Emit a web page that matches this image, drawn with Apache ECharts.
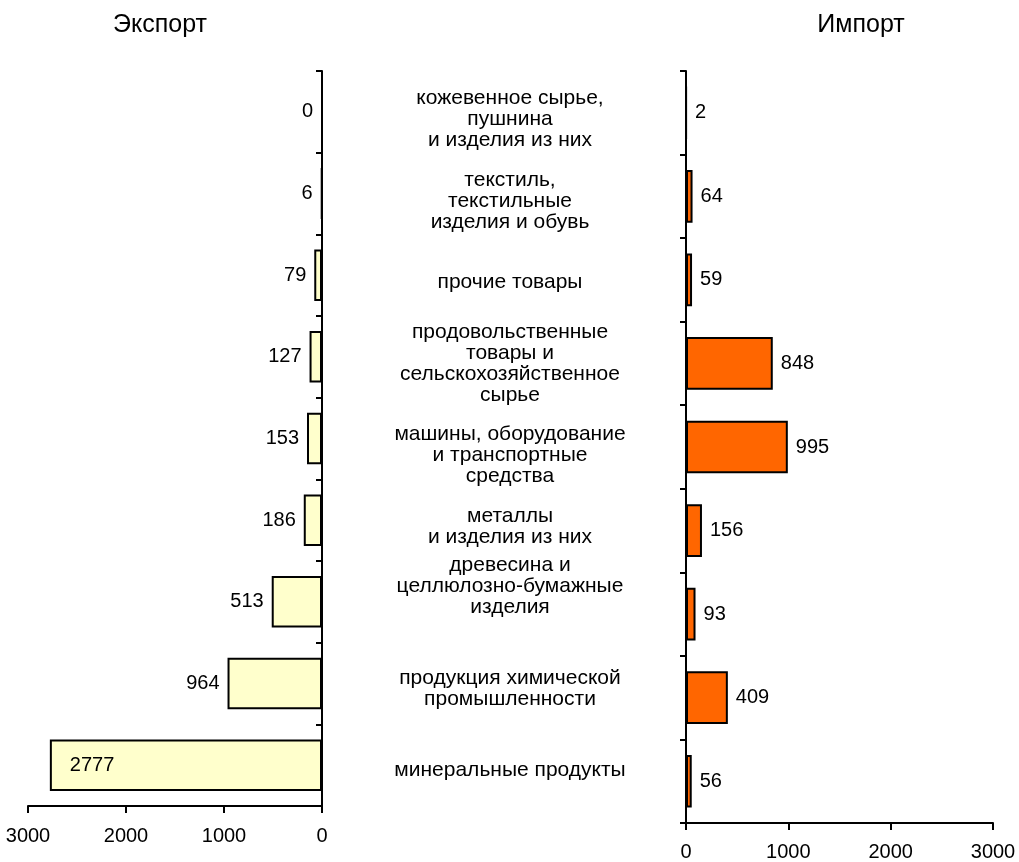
<!DOCTYPE html>
<html>
<head>
<meta charset="utf-8">
<script src="https://cdn.jsdelivr.net/npm/echarts@6/dist/echarts.min.js"></script>
<style>
  html, body { margin: 0; padding: 0; background: #fff; }
  #chart { width: 1019px; height: 862px; }
</style>
</head>
<body>
<div id="chart"></div>
<script>
// категории сверху вниз
const categories = [
  "кожевенное сырье,\nпушнина\nи изделия из них",
  "текстиль,\nтекстильные\nизделия и обувь",
  "прочие товары",
  "продовольственные\nтовары и\nсельскохозяйственное\nсырье",
  "машины, оборудование\nи транспортные\nсредства",
  "металлы\nи изделия из них",
  "древесина и\nцеллюлозно-бумажные\nизделия",
  "продукция химической\nпромышленности",
  "минеральные продукты"
];
const exportValues = [0, 6, 79, 127, 153, 186, 513, 964, 2777];
const importValues = [2, 64, 59, 848, 995, 156, 93, 409, 56];
const axisTicks = [0, 1000, 2000, 3000];

const font = "Arial, 'Liberation Sans', sans-serif";
const black = "#000";

const chart = echarts.init(document.getElementById("chart"));

const exportData = exportValues.map((v) => {
  if (v > 2000) {
    return { value: v, label: { position: "insideLeft", distance: 20 } };
  }
  return v;
});

// подписи в середине стоят не совсем ровно - чуть двигаем пустыми строками
function middleLabel(value, idx) {
  if (idx === 4) return "\n" + value;
  if (idx === 6) return value + "\n\n";
  return value;
}

function valueAxis(gridIndex, inverse, margin) {
  return {
    gridIndex: gridIndex,
    type: "value",
    inverse: inverse,
    min: axisTicks[0],
    max: axisTicks[axisTicks.length - 1],
    interval: 1000,
    splitLine: { show: false },
    axisLine: { show: true, lineStyle: { color: black, width: 2 } },
    axisTick: { show: true, length: 7, lineStyle: { color: black, width: 2 } },
    axisLabel: { color: black, fontSize: 20, margin: margin, formatter: (v) => String(v) }
  };
}

const option = {
  animation: false,
  backgroundColor: "#fff",
  textStyle: { fontFamily: font },
  graphic: [
    {
      type: "text",
      x: 160,
      y: 25,
      style: { text: "Экспорт", fontSize: 25, fontFamily: font, fill: black, align: "center", verticalAlign: "middle" }
    },
    {
      type: "text",
      x: 861,
      y: 25,
      style: { text: "Импорт", fontSize: 25, fontFamily: font, fill: black, align: "center", verticalAlign: "middle" }
    }
  ],
  grid: [
    { left: 28, right: 697, top: 71, height: 735 },
    { left: 686, right: 26, top: 71, height: 752 },
    { left: 510, width: 2, top: 79, height: 732 }
  ],
  xAxis: [
    valueAxis(0, true, 20),
    valueAxis(1, false, 19),
    { gridIndex: 2, type: "value", show: false }
  ],
  yAxis: [
    {
      gridIndex: 0,
      type: "category",
      position: "right",
      inverse: true,
      data: categories,
      axisLine: { show: true, lineStyle: { color: black, width: 2 } },
      axisTick: { show: true, inside: true, length: 6, lineStyle: { color: black, width: 2 } },
      axisLabel: { show: false }
    },
    {
      gridIndex: 1,
      type: "category",
      position: "left",
      inverse: true,
      data: categories,
      axisLine: { show: true, lineStyle: { color: black, width: 2 } },
      axisTick: { show: true, length: 6, lineStyle: { color: black, width: 2 } },
      axisLabel: { show: false }
    },
    {
      gridIndex: 2,
      type: "category",
      position: "left",
      inverse: true,
      data: categories,
      axisLine: { show: false },
      axisTick: { show: false },
      axisLabel: {
        color: black,
        fontSize: 21,
        lineHeight: 21,
        align: "center",
        margin: 0,
        interval: 0,
        formatter: middleLabel
      }
    }
  ],
  series: [
    {
      type: "bar",
      xAxisIndex: 0,
      yAxisIndex: 0,
      data: exportData,
      barCategoryGap: "37%",
      itemStyle: { color: "#FFFFCC", borderColor: black, borderWidth: 2 },
      label: { show: true, position: "left", distance: 8, color: black, fontSize: 20 }
    },
    {
      type: "bar",
      xAxisIndex: 1,
      yAxisIndex: 1,
      data: importValues,
      barCategoryGap: "37%",
      itemStyle: { color: "#FF6600", borderColor: black, borderWidth: 2 },
      label: { show: true, position: "right", distance: 8, color: black, fontSize: 20 }
    }
  ]
};

chart.setOption(option);
</script>
</body>
</html>
